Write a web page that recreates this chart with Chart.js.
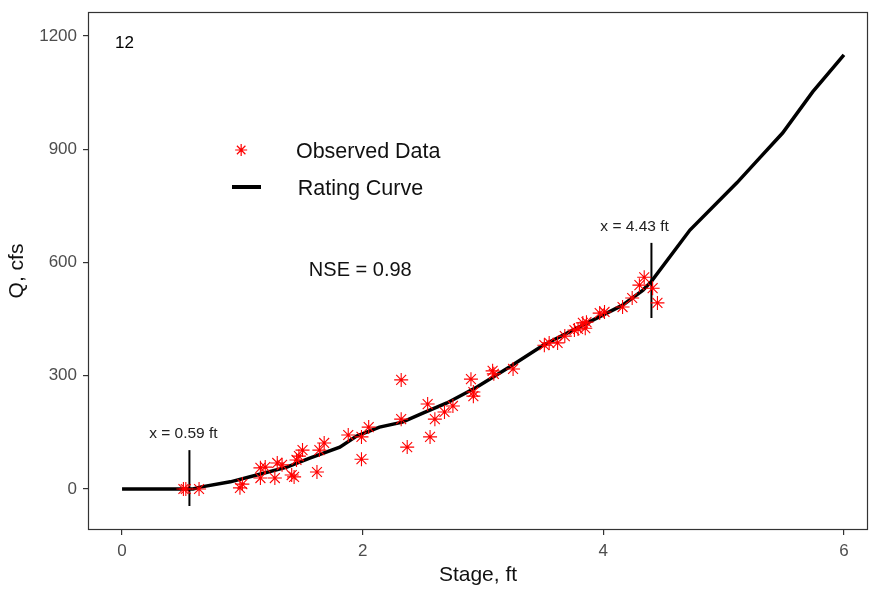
<!DOCTYPE html>
<html>
<head>
<meta charset="utf-8">
<script src="https://cdn.jsdelivr.net/npm/chart.js@4.4.1/dist/chart.umd.min.js"></script>
<style>
  html, body { margin: 0; padding: 0; background: #fff; overflow: hidden; }
  #wrap { width: 870px; height: 589px; }
  canvas { display: block; }
</style>
</head>
<body>
<div id="wrap"><canvas id="c" width="870" height="589"></canvas></div>
<script>
// ---- data ----
const obsStage = [0.51, 0.53, 0.64, 0.98, 1.00, 1.15, 1.15, 1.19, 1.27, 1.29, 1.33, 1.41, 1.43, 1.45, 1.47, 1.50, 1.62, 1.64, 1.68,
  1.88, 1.99, 2.05, 1.99, 2.32, 2.32, 2.37, 2.54, 2.56, 2.60, 2.68, 2.75, 2.90, 2.92, 2.92, 3.08, 3.09, 3.25,
  3.51, 3.55, 3.62, 3.68, 3.76, 3.79, 3.83, 3.85, 3.86, 3.97, 4.01, 4.16, 4.24, 4.30, 4.34, 4.41, 4.45];
const obsQ = [0, 0, 0, 3, 13, 29, 56, 58, 29, 69, 64, 37, 32, 77, 87, 103, 45, 103, 122,
  143, 138, 164, 79, 289, 185, 111, 225, 138, 185, 204, 220, 291, 257, 246, 313, 305, 318,
  381, 387, 387, 405, 421, 424, 440, 426, 442, 466, 469, 482, 506, 540, 561, 532, 493];

const curveStage = [0, 0.59, 0.65, 0.90, 1.12, 1.37, 1.56, 1.81, 1.95, 2.14, 2.33, 2.50, 2.70, 2.95, 3.22, 3.50, 3.83, 4.16, 4.33, 4.40, 4.72, 5.11, 5.30, 5.49, 5.74, 6.00];
const curveQ = [0, 0, 5, 19, 37, 58, 82, 111, 140, 164, 177, 201, 228, 270, 323, 381, 434, 487, 527, 550, 686, 811, 877, 943, 1052, 1150];

const breakStage = [0.56, 4.40];
const breakQLow = [-45, 453];
const breakQHigh = [103, 652];
const breakLabels = ["x = 0.59 ft", "x = 4.43 ft"];

const xTicks = [0, 2, 4, 6];
const yTicks = [0, 300, 600, 900, 1200];

const panelLabel = "12";
const nseLabel = "NSE = 0.98";
const legendLabels = ["Observed Data", "Rating Curve"];

// ---- build datasets ----
const obsPts = obsStage.map((x, i) => ({ x: x, y: obsQ[i] }));
const curvePts = curveStage.map((x, i) => ({ x: x, y: curveQ[i] }));
const breakSets = breakStage.map((x, i) => ({
  data: [{ x: x, y: breakQLow[i] }, { x: x, y: breakQHigh[i] }],
  showLine: true, borderColor: '#000', borderWidth: 2, pointRadius: 0, pointHoverRadius: 0, order: 1
}));

const FONT = "'Liberation Sans', Arial, sans-serif";

// extend the plot panel to the right edge (panel right at width - 2)
const panelFix = {
  id: 'panelFix',
  afterLayout(chart) {
    const a = chart.chartArea;
    a.right = chart.width - 2;
    a.width = a.right - a.left;
    const x = chart.scales.x;
    x.right = a.right;
    x.width = a.right - x.left;
    x.configure();
  }
};

const annot = {
  id: 'annot',
  afterDraw(chart) {
    const { ctx, chartArea: a, scales: { x, y } } = chart;
    ctx.save();
    // panel border
    ctx.strokeStyle = '#333';
    ctx.lineWidth = 1.2;
    ctx.strokeRect(a.left + 0.5, a.top + 0.5, a.right - a.left - 1, a.bottom - a.top - 1);

    ctx.textBaseline = 'middle';
    // panel label
    ctx.fillStyle = '#000';
    ctx.font = "17px " + FONT;
    ctx.textAlign = 'center';
    ctx.fillText(panelLabel, x.getPixelForValue(0.02), y.getPixelForValue(1181));

    // break labels
    ctx.font = "15.5px " + FONT;
    ctx.fillStyle = '#222';
    ctx.fillText(breakLabels[0], x.getPixelForValue(0.51), y.getPixelForValue(146));
    ctx.fillText(breakLabels[1], x.getPixelForValue(4.26), y.getPixelForValue(694));

    // NSE
    ctx.font = "20px " + FONT;
    ctx.fillStyle = '#111';
    ctx.fillText(nseLabel, x.getPixelForValue(1.98), y.getPixelForValue(580));

    // legend
    const sx = x.getPixelForValue(0.99), sy = y.getPixelForValue(898);
    ctx.strokeStyle = 'red';
    ctx.lineWidth = 1.2;
    const r = 6;
    ctx.beginPath();
    for (let k = 0; k < 4; k++) {
      const ang = k * Math.PI / 4;
      ctx.moveTo(sx - r * Math.cos(ang), sy - r * Math.sin(ang));
      ctx.lineTo(sx + r * Math.cos(ang), sy + r * Math.sin(ang));
    }
    ctx.stroke();
    ctx.strokeStyle = '#000';
    ctx.lineWidth = 4;
    const ly = y.getPixelForValue(800);
    ctx.beginPath();
    ctx.moveTo(x.getPixelForValue(0.914), ly);
    ctx.lineTo(x.getPixelForValue(1.155), ly);
    ctx.stroke();
    ctx.fillStyle = '#111';
    ctx.font = "21.5px " + FONT;
    ctx.textAlign = 'left';
    ctx.fillText(legendLabels[0], x.getPixelForValue(1.445), y.getPixelForValue(893));
    ctx.fillText(legendLabels[1], x.getPixelForValue(1.46), y.getPixelForValue(795));
    ctx.restore();
  }
};

new Chart(document.getElementById('c'), {
  type: 'scatter',
  data: {
    datasets: [
      { label: legendLabels[0], data: obsPts, pointStyle: 'star', radius: 7, pointHoverRadius: 7,
        borderColor: 'red', backgroundColor: 'red', borderWidth: 1.1, showLine: false, order: 0 },
      { label: legendLabels[1], data: curvePts, showLine: true, borderColor: '#000', borderWidth: 3.5,
        pointRadius: 0, pointHoverRadius: 0, tension: 0, order: 2 },
      ...breakSets
    ]
  },
  options: {
    responsive: false,
    animation: false,
    events: [],
    layout: { padding: { top: 12, right: 2, left: 0, bottom: 0 } },
    plugins: { legend: { display: false }, tooltip: { enabled: false } },
    scales: {
      x: {
        type: 'linear', min: -0.283, max: 6.2,
        afterBuildTicks: (s) => { s.ticks = xTicks.map(v => ({ value: v })); },
        afterFit: (s) => { s.height = 59; s.paddingLeft = 0; s.paddingRight = 0; },
        grid: { display: true, drawOnChartArea: false, drawTicks: true, tickLength: 5, color: '#333', lineWidth: 1.2 },
        border: { display: false },
        ticks: { color: '#4d4d4d', font: { family: FONT, size: 17 }, padding: 6, maxRotation: 0,
          callback: (v) => String(v) },
        title: { display: true, text: 'Stage, ft', color: '#111', font: { family: FONT, size: 21 }, padding: { top: 0, bottom: 1 } }
      },
      y: {
        type: 'linear', min: -108.6, max: 1263.6,
        afterBuildTicks: (s) => { s.ticks = yTicks.map(v => ({ value: v })); },
        afterFit: (s) => { s.width = 88; s.paddingTop = 0; s.paddingBottom = 0; },
        grid: { display: true, drawOnChartArea: false, drawTicks: true, tickLength: 5, color: '#333', lineWidth: 1.2 },
        border: { display: false },
        ticks: { color: '#4d4d4d', font: { family: FONT, size: 17 }, padding: 6,
          callback: (v) => String(v) },
        title: { display: true, text: 'Q, cfs', color: '#111', font: { family: FONT, size: 21 }, padding: { top: 5, bottom: 0 } }
      }
    }
  },
  plugins: [panelFix, annot]
});
</script>
</body>
</html>
